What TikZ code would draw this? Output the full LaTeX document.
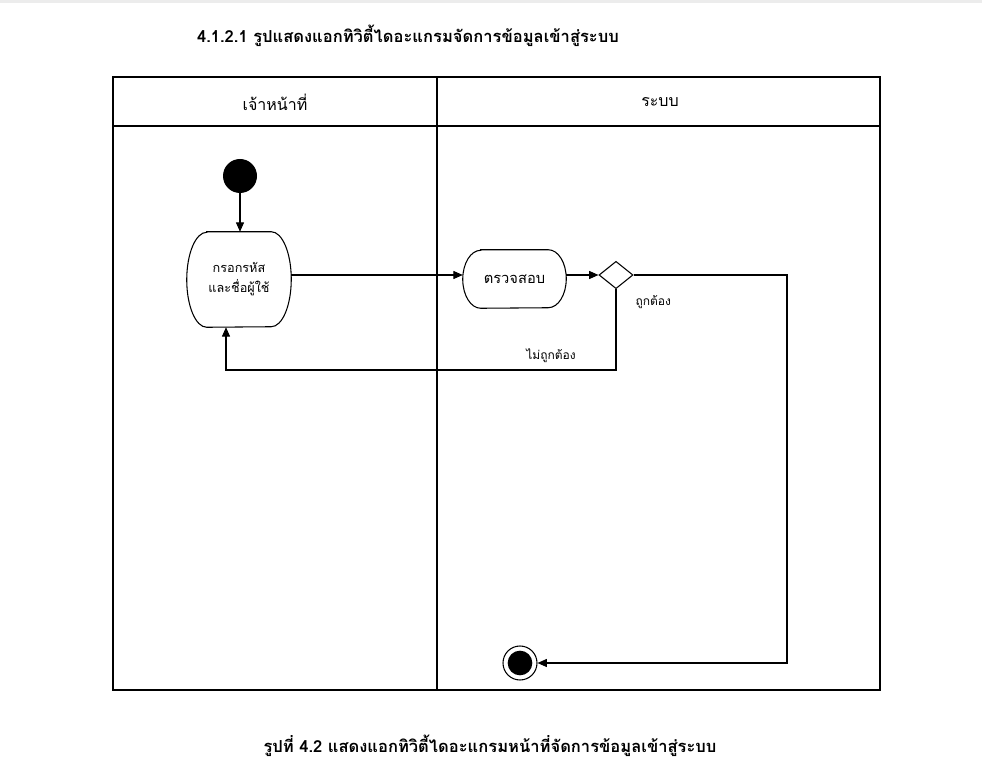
\documentclass[tikz,border=0pt]{standalone}
\usepackage{fontspec}
\newfontfamily\thai[Script=Thai]{Loma}
\usetikzlibrary{arrows.meta,shapes.geometric,calc}

\begin{document}
\begin{tikzpicture}[x=0.75pt,y=-0.75pt,
  line/.style={line width=0.8pt},
  flow/.style={line width=0.8pt,-{Triangle[length=7pt,width=6pt]}},
  frame/.style={line width=0.8pt},
  hdr/.style={font=\thai\fontsize{12}{14}\selectfont},
  heading/.style={font=\thai\bfseries\fontsize{12.4}{14}\selectfont},
  lbl/.style={font=\thai\fontsize{9}{11}\selectfont, inner sep=1pt},
  acttext/.style={font=\thai\fontsize{9.5}{15}\selectfont, align=center, inner sep=0pt},
  startnode/.style={circle, fill=black, inner sep=0pt, minimum size=25.5pt},
  decision/.style={diamond, draw, line width=0.8pt, inner sep=0pt, minimum width=25.5pt, minimum height=20.5pt}
]
\useasboundingbox (0,0) rectangle (982,759);
\fill[white] (0,0) rectangle (982,759);
\fill[gray!15] (0,0) rectangle (982,3);

% headings
\node[heading] (ttl) at (408,36) {4.1.2.1 รูปแสดงแอกทิวิตี้ไดอะแกรมจัดการข้อมูลเข้าสู่ระบบ};
\node[heading] (cap) at (490,746) {รูปที่ 4.2 แสดงแอกทิวิตี้ไดอะแกรมหน้าที่จัดการข้อมูลเข้าสู่ระบบ};

% swimlanes
\draw[frame] (113,77) rectangle (880,690);
\draw[frame] (113,126) -- (880,126);
\draw[frame] (437,77) -- (437,690);
\node[hdr] (lane1) at (275,102) {เจ้าหน้าที่};
\node[hdr] (lane2) at (660,102) {ระบบ};

% start
\node[startnode] (start) at (240,176) {};

% activity: enter credentials
\node[acttext, minimum width=78pt, minimum height=71.25pt] (input) at (239,279.5) {กรอกรหัส\\และชื่อผู้ใช้};
\draw[line] ($(input.north west)+(20,0)$) -- ($(input.north east)+(-20,0)$)
  arc[start angle=90,end angle=-90,x radius=15pt,y radius=35.625pt]
  -- ($(input.south west)+(20,0)$)
  arc[start angle=270,end angle=90,x radius=15pt,y radius=35.625pt] -- cycle;

% activity: verify
\node[acttext, font=\thai\fontsize{11}{15}\selectfont, minimum width=77.25pt, minimum height=43.5pt] (check) at (514.5,279) {ตรวจสอบ};
\draw[line] ($(check.north west)+(18,0)$) -- ($(check.north east)+(-18,0)$)
  arc[start angle=90,end angle=-90,x radius=13.5pt,y radius=21.75pt]
  -- ($(check.south west)+(18,0)$)
  arc[start angle=270,end angle=90,x radius=13.5pt,y radius=21.75pt] -- cycle;

% decision
\node[decision] (dec) at (616,275) {};

% final
\node[circle, draw, line width=0.8pt, inner sep=0pt, minimum size=25.5pt] (final) at (520,663) {};
\node[circle, fill=black, inner sep=0pt, minimum size=18.5pt] (finaldot) at (final) {};

% flows
\coordinate (rturn) at (787,275);
\coordinate (lback) at (226,370);
\draw[flow] (start) -- (input.north -| start);
\draw[flow] (input.east |- dec) -- (check.west |- dec);
\draw[flow] (check.east |- dec) -- (dec.west);
\draw[flow] (dec.east) -- (rturn) |- (final.east);
\draw[flow] (dec.south) |- (lback) -- (input.south -| lback);

% guards
\node[lbl, anchor=west] (okl) at (634,302) {ถูกต้อง};
\node[lbl] (nokl) at (551,356) {ไม่ถูกต้อง};
\end{tikzpicture}
\end{document}
